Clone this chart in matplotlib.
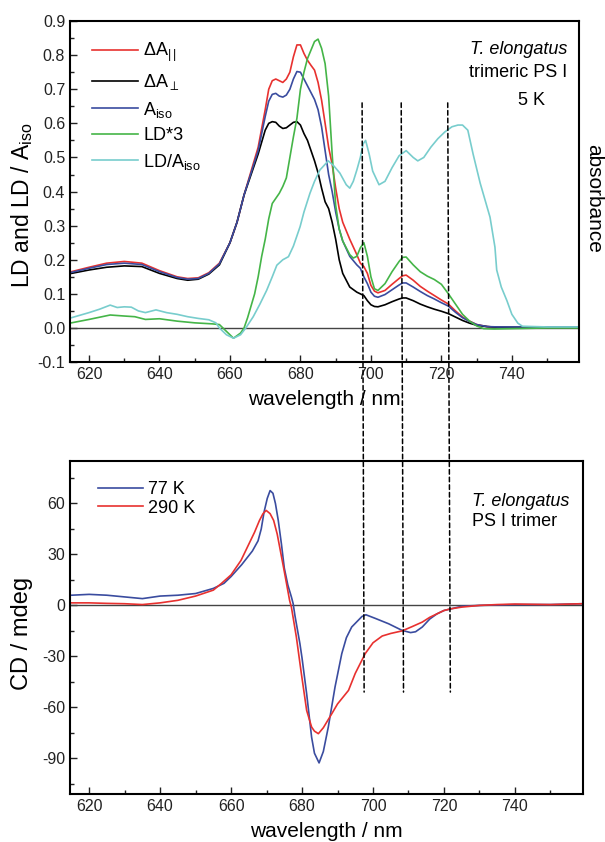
import numpy as np
import matplotlib
matplotlib.use('Agg')
import matplotlib.pyplot as plt
from matplotlib.patches import ConnectionPatch
from matplotlib.ticker import MultipleLocator

plt.rcParams['font.family'] = ['Liberation Sans', 'DejaVu Sans']
plt.rcParams['mathtext.fontset'] = 'custom'
plt.rcParams['mathtext.rm'] = 'Liberation Sans'
plt.rcParams['mathtext.it'] = 'Liberation Sans:italic'
plt.rcParams['axes.unicode_minus'] = False

# --- top panel: absorption / LD at 5 K ---
wl_abs = [615, 620, 625, 630, 635, 640, 645, 648, 651, 654, 657, 660, 662, 664, 666, 668,
          670, 671, 672, 673, 674, 675, 676, 677, 678, 679, 680, 681, 682, 683, 684, 685,
          686, 687, 688, 689, 690, 691, 692, 694, 696, 697, 698, 699, 700, 701, 702, 704,
          706, 708, 709, 710, 712, 714, 716, 718, 720, 722, 724, 726, 728, 730, 733, 736,
          740, 750, 759]
a_par = [.165, .178, .19, .195, .19, .168, .15, .145, .147, .162, .19, .25, .31, .39, .46, .53,
         .64, .70, .725, .73, .725, .72, .73, .75, .795, .83, .83, .805, .785, .77, .756, .72,
         .668, .60, .53, .48, .41, .35, .31, .26, .215, .19, .18, .16, .125, .108, .103, .11,
         .128, .145, .153, .155, .14, .122, .108, .095, .082, .07, .05, .032, .02, .01, .004, .002,
         .002, .002, .002]
a_perp = [.16, .17, .178, .182, .18, .16, .145, .14, .143, .158, .185, .25, .31, .39, .45, .51,
          .58, .60, .605, .603, .592, .585, .587, .595, .603, .605, .595, .57, .55, .52, .49, .455,
          .41, .37, .35, .31, .26, .2, .16, .12, .105, .1, .095, .08, .068, .063, .062, .068,
          .077, .085, .088, .088, .08, .07, .062, .055, .049, .042, .032, .022, .014, .008, .004, .002,
          .002, .002, .002]
a_iso = [.163, .175, .186, .19, .186, .165, .148, .143, .145, .16, .188, .25, .31, .39, .455, .52,
         .62, .665, .685, .688, .68, .677, .683, .70, .73, .752, .75, .73, .71, .69, .67, .64,
         .59, .52, .45, .40, .34, .29, .255, .21, .185, .175, .15, .13, .105, .093, .09, .098,
         .112, .126, .132, .132, .12, .107, .095, .085, .074, .064, .046, .03, .019, .01, .004, .003,
         .003, .003, .003]

wl_ld = [615, 620, 626, 630, 633, 636, 640, 645, 650, 655, 657, 659, 661, 663, 664, 665, 667,
         668, 669, 670, 671, 672, 673, 674, 675, 676, 677, 678, 679, 680, 681, 682, 683, 684,
         685, 686, 687, 688, 689, 690, 691, 692, 694, 695, 696, 697, 698, 699, 700, 701, 702,
         704, 706, 708, 709, 710, 712, 714, 716, 718, 720, 722, 724, 726, 728, 730, 732, 735,
         740, 750, 759]
ld3 = [.015, .025, .038, .035, .033, .025, .027, .02, .015, .012, .01, -.01, -.03, -.015, 0, .03, .10,
       .15, .21, .26, .32, .365, .38, .395, .415, .44, .50, .56, .615, .70, .75, .79, .815, .84,
       .847, .82, .775, .68, .51, .36, .29, .255, .215, .205, .21, .235, .25, .21, .15, .115, .11,
       .13, .165, .195, .207, .208, .185, .165, .152, .142, .128, .1, .07, .04, .02, .006, -.002, -.003,
       -.002, 0, 0]

wl_ratio = [615, 620, 623, 626, 628, 630, 632, 634, 636, 639, 642, 645, 648, 651, 654, 656, 657,
            659, 661, 663, 664.5, 666.6, 668.5, 670.4, 672, 673.3, 675, 676.6, 678, 679.9, 681,
            682.7, 684, 685.5, 687.9, 689.5, 691.2, 693, 694, 695, 696, 697, 697.8, 698.5, 699.5,
            700.5, 702.3, 704, 706, 708, 710, 712, 713.3, 715, 717, 719, 721, 723, 724.7, 726,
            727.5, 729, 731, 733.8, 735.2, 735.7, 737, 738.6, 740, 741.7, 743, 750, 759]
ld_ratio = [.03, .045, .055, .067, .06, .062, .061, .05, .045, .053, .045, .04, .033, .028, .024, .015, .0,
            -.02, -.03, -.02, 0, .033, .07, .11, .15, .184, .2, .209, .24, .297, .34,
            .395, .43, .463, .49, .475, .454, .42, .41, .43, .463, .5, .54, .55, .51,
            .46, .42, .43, .47, .505, .52, .5, .49, .5, .53, .555, .575, .59, .595, .595,
            .58, .51, .425, .325, .237, .17, .12, .08, .04, .014, .005, .003, .003]

# --- bottom panel: CD ---
wl_cd77 = [615, 620, 625, 630, 635, 640, 645, 650, 655, 658, 660, 663, 666, 667.6, 668.5, 669.3,
           670.2, 671, 671.8, 672.5, 673.3, 674.2, 675, 676, 677, 677.5, 678, 679.4, 680, 681.3,
           682.7, 683.5, 684.8, 686, 687.4, 689.3, 691.2, 692.5, 694, 696.9, 698, 700.6, 704.4,
           708.2, 710.6, 712, 713.9, 716, 718, 720, 722, 725, 730, 740, 750, 759]
cd77 = [6, 6.5, 6, 5, 4, 5.5, 6, 7, 10, 13, 17, 24, 32, 38, 45, 55,
        63, 67.6, 66, 60, 50, 36, 22, 12, 5, 1, -6, -22.5, -31, -52,
        -77.6, -87, -92.7, -86, -71.6, -48, -28.4, -19, -12.7, -6.5, -5.5, -7.6, -10.8,
        -14.7, -16, -15.5, -12.7, -8, -5, -3, -2, -0.5, 0, 0.5, 0.5, 1]
wl_cd290 = [615, 620, 625, 630, 635, 640, 645, 650, 655, 657.2, 660, 662.8, 666.6, 668, 669, 669.9,
            671, 672, 673, 674, 675, 676.5, 677, 678.4, 679.8, 681.3, 682.7, 683.5, 684.6, 686,
            688.4, 690, 693.1, 695, 697.8, 700, 702.6, 705, 708.2, 711, 713.9, 716, 718, 720,
            722, 725, 730, 735, 740, 750, 759]
cd290 = [1.5, 1.5, 1.2, 1, 0.5, 1.5, 3, 5.5, 9, 12.8, 18, 26.5, 43, 50, 54, 55.9,
         54, 50, 42, 31, 20, 2.9, -1, -18.6, -40, -61.8, -71.6, -74, -75.5, -72,
         -63.7, -58, -50, -40, -28.4, -22, -18, -16.5, -15, -12.5, -9.8, -7, -5, -3,
         -2, -1, 0, 0.5, 0.8, 0.5, 1]

dash_wl = [697.5, 708.6, 721.8]

c_red = '#e8312f'
c_blue = '#3a4c9f'
c_green = '#45b548'
c_cyan = '#78cdcd'

fig = plt.figure(figsize=(6.05, 8.42), dpi=100)
ax1 = fig.add_axes([0.1157, 0.570, 0.841, 0.405])
ax2 = fig.add_axes([0.1157, 0.057, 0.848, 0.3955])

lw = 1.2
ax1.axhline(0, color='#444444', lw=1.0)
ax1.plot(wl_abs, a_par, color=c_red, lw=lw, label=r'$\Delta$A$_{\rm |\,|}$')
ax1.plot(wl_abs, a_perp, color='k', lw=lw, label=r'$\Delta$A$_{\perp}$')
ax1.plot(wl_abs, a_iso, color=c_blue, lw=lw, label=r'A$_{\rm iso}$')
ax1.plot(wl_ld, ld3, color=c_green, lw=lw, label='LD*3')
ax1.plot(wl_ratio, ld_ratio, color=c_cyan, lw=lw, label=r'LD/A$_{\rm iso}$')
ax1.set_xlim(614.6, 759)
ax1.set_ylim(-0.1, 0.9)
ax1.yaxis.set_major_locator(MultipleLocator(0.1))
ax1.yaxis.set_minor_locator(MultipleLocator(0.05))
ax1.set_yticks(ax1.get_yticks())
ax1.set_yticklabels([f'{v:.1f}' for v in ax1.get_yticks()])
ax1.set_ylim(-0.1, 0.9)
ax1.set_ylabel(r'LD and LD / A$_{\rm iso}$', fontsize=16.5)
ax1.yaxis.set_label_coords(-0.068, 0.46)
ax1.set_xlabel('wavelength / nm', fontsize=15, labelpad=6)
ax1.legend(loc='upper left', bbox_to_anchor=(0.03, 0.962), frameon=False, fontsize=13,
           handlelength=2.5, handletextpad=0.3, labelspacing=0.42, borderaxespad=0)
ax1.text(0.978, 0.918, 'T. elongatus', style='italic', fontsize=13, ha='right', va='center',
         transform=ax1.transAxes)
ax1.text(0.978, 0.85, 'trimeric PS I', fontsize=13, ha='right', va='center', transform=ax1.transAxes)
ax1.text(0.908, 0.768, '5 K', fontsize=13, ha='center', va='center', transform=ax1.transAxes)

ax2.axhline(0, color='#444444', lw=1.0)
ax2.plot(wl_cd77, cd77, color=c_blue, lw=lw, label='77 K')
ax2.plot(wl_cd290, cd290, color=c_red, lw=lw, label='290 K')
ax2.set_xlim(614.6, 759.2)
ax2.set_ylim(-111, 85)
ax2.yaxis.set_major_locator(MultipleLocator(30))
ax2.yaxis.set_minor_locator(MultipleLocator(15))
ax2.set_ylabel('CD / mdeg', fontsize=17)
ax2.yaxis.set_label_coords(-0.072, 0.483)
ax2.set_xlabel('wavelength / nm', fontsize=15, labelpad=6)
ax2.legend(loc='upper left', bbox_to_anchor=(0.04, 0.962), frameon=False, fontsize=13,
           handlelength=2.5, handletextpad=0.3, labelspacing=0.1, borderaxespad=0)
ax2.text(0.784, 0.877, 'T. elongatus', style='italic', fontsize=13, ha='left', va='center',
         transform=ax2.transAxes)
ax2.text(0.784, 0.817, 'PS I trimer', fontsize=13, ha='left', va='center', transform=ax2.transAxes)

for ax in (ax1, ax2):
    ax.xaxis.set_major_locator(MultipleLocator(20))
    ax.xaxis.set_minor_locator(MultipleLocator(10))
    ax.tick_params(which='both', direction='in', top=False, right=False, labelsize=11.5,
                   width=1.0, colors='#222222')
    ax.tick_params(which='major', length=5)
    ax.tick_params(which='minor', length=3)
    for s in ax.spines.values():
        s.set_linewidth(1.5)

for x in dash_wl:
    con = ConnectionPatch(xyA=(x, 0.66), coordsA=ax1.transData,
                          xyB=(x, -51), coordsB=ax2.transData,
                          linestyle=(0, (3, 2)), color='k', lw=1.1)
    fig.add_artist(con)

fig.text(594 / 605, 1 - 198 / 842, 'absorbance', rotation=270, fontsize=15,
         ha='center', va='center')

fig.savefig('out.png', dpi=100)
